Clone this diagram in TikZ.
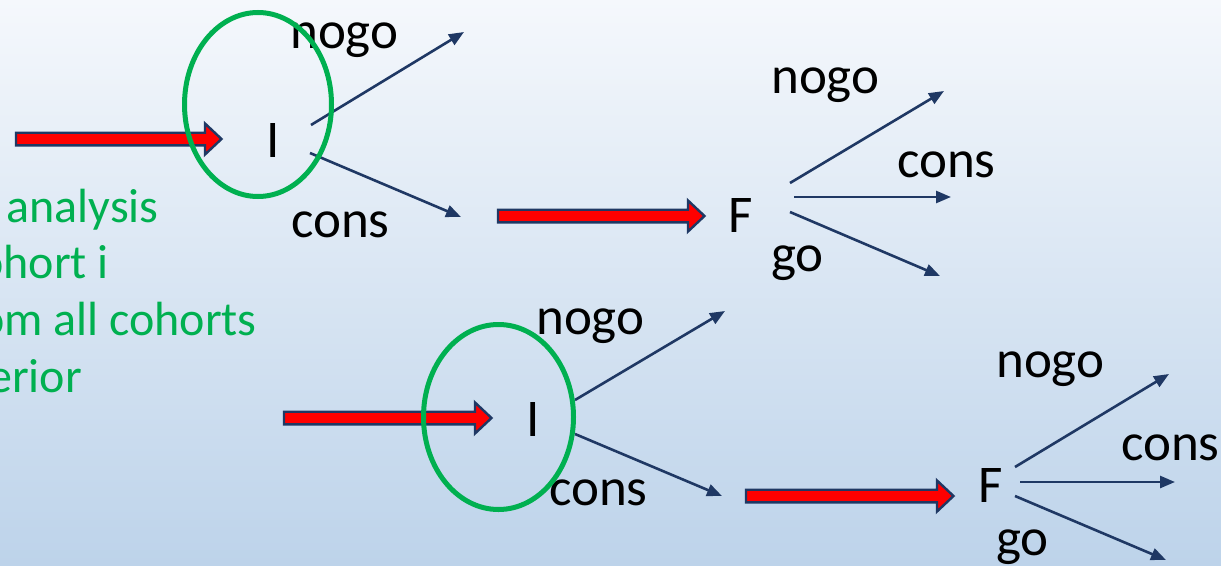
\documentclass[tikz,border=0pt]{standalone}
\usepackage{fontspec}
\setmainfont{Carlito}
\usetikzlibrary{arrows.meta}
\definecolor{bgtop}{RGB}{245,248,252}
\definecolor{bgbot}{RGB}{189,211,234}
\definecolor{navy}{RGB}{31,56,100}
\definecolor{pgreen}{RGB}{0,176,80}
\tikzset{
  lbl/.style={font=\fontsize{53}{60}\selectfont, inner sep=0pt, anchor=base west},
  letter/.style={font=\fontsize{53}{60}\selectfont, inner sep=0pt, anchor=base},
  note/.style={font=\fontsize{48}{56}\selectfont, text=pgreen, inner sep=0pt, anchor=base east},
  branch/.style={draw=navy, line width=2.6pt, -{Triangle[length=15pt,width=12pt]}},
  blockarrow/.style={draw=navy, line width=2.4pt, fill=red, line join=miter},
  ring/.style={draw=pgreen, line width=5pt},
}
% thick red block arrow: tail x, tip x, centre y
\newcommand\redarrow[3]{%
  \draw[blockarrow] (#1,#3-6.3) -- (#2-16.5,#3-6.3) -- (#2-16.5,#3-15.5)
    -- (#2,#3) -- (#2-16.5,#3+15.5) -- (#2-16.5,#3+6.3) -- (#1,#3+6.3) -- cycle;}
\begin{document}
\begin{tikzpicture}[x=1pt,y=-1pt]
  \useasboundingbox (0,0) rectangle (1221,565);
  \clip (0,0) rectangle (1221,565);
  \shade[top color=bgtop, bottom color=bgbot] (0,0) rectangle (1221,565);

  % side note
  \node[note] (n1) at (159,222) {analysis};
  \node[note] (n2) at (109,278) {ohort i};
  \node[note] (n3) at (257,335) {om all cohorts};
  \node[note] (n4) at (82,392) {erior};

  % block arrows into each decision
  \redarrow{16}{221.5}{139}
  \redarrow{498}{704.5}{216}
  \redarrow{284}{491.5}{418}
  \redarrow{746}{953.5}{496}

  % upper interim decision
  \node[letter] (I1) at (273,157) {I};
  \node[lbl] (nogoA) at (290,48) {nogo};
  \node[lbl] (consA) at (291,237) {cons};
  \coordinate (I1u) at (311,125); \coordinate (I1ue) at (464,32);
  \coordinate (I1d) at (310,153); \coordinate (I1de) at (461,217);
  \draw[branch] (I1u) -- (I1ue);
  \draw[branch] (I1d) -- (I1de);

  % upper final decision
  \node[letter] (F1) at (741,232) {F};
  \node[lbl] (nogoB) at (771,93) {nogo};
  \node[lbl] (consB) at (897,177) {cons};
  \node[lbl] (goB) at (771,271) {go};
  \coordinate (F1u) at (790,183); \coordinate (F1ue) at (944,91);
  \coordinate (F1m) at (794,197); \coordinate (F1me) at (951,197);
  \coordinate (F1d) at (790,212); \coordinate (F1de) at (940,276);
  \draw[branch] (F1u) -- (F1ue);
  \draw[branch] (F1m) -- (F1me);
  \draw[branch] (F1d) -- (F1de);

  % lower interim decision
  \node[letter] (I2) at (533,436) {I};
  \node[lbl] (nogoC) at (536,334) {nogo};
  \node[lbl] (consC) at (549,505) {cons};
  \coordinate (I2u) at (575,400); \coordinate (I2ue) at (725,311);
  \coordinate (I2d) at (575,434); \coordinate (I2de) at (722,496);
  \draw[branch] (I2u) -- (I2ue);
  \draw[branch] (I2d) -- (I2de);

  % lower final decision
  \node[letter] (F2) at (991,502) {F};
  \node[lbl] (nogoD) at (996,377) {nogo};
  \node[lbl] (consD) at (1121,460) {cons};
  \node[lbl] (goD) at (996,555) {go};
  \coordinate (F2u) at (1015,467); \coordinate (F2ue) at (1169,374);
  \coordinate (F2m) at (1020,482); \coordinate (F2me) at (1175,482);
  \coordinate (F2d) at (1015,496); \coordinate (F2de) at (1166,560);
  \draw[branch] (F2u) -- (F2ue);
  \draw[branch] (F2m) -- (F2me);
  \draw[branch] (F2d) -- (F2de);

  % green rings round the interim points
  \draw[ring] (258,104.5) ellipse [x radius=73.5, y radius=92];
  \draw[ring] (498.5,417) ellipse [x radius=75, y radius=92.5];
\end{tikzpicture}
\end{document}
